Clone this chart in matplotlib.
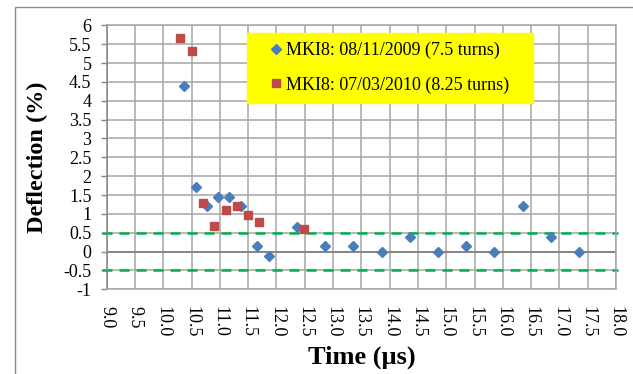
import numpy as np
import matplotlib
matplotlib.use("Agg")
import matplotlib.pyplot as plt
from matplotlib.patches import Rectangle

# data
t_2009 = [10.37, 10.57, 10.77, 10.97, 11.17, 11.37, 11.66, 11.86, 12.36,
          12.86, 13.36, 13.86, 14.36, 14.86, 15.35, 15.85, 16.35, 16.85, 17.35]
d_2009 = [4.4, 1.72, 1.2, 1.46, 1.46, 1.2, 0.15, -0.12, 0.66,
          0.14, 0.14, 0.0, 0.4, 0.0, 0.14, 0.0, 1.2, 0.4, 0.0]

t_2010 = [10.30, 10.50, 10.71, 10.90, 11.10, 11.30, 11.50, 11.70, 12.49]
d_2010 = [5.65, 5.33, 1.3, 0.68, 1.1, 1.2, 0.98, 0.79, 0.61]

label_2009 = 'MKI8: 08/11/2009 (7.5 turns)'
label_2010 = 'MKI8: 07/03/2010 (8.25 turns)'

limites = [0.5, -0.5]
x_lim_traits = [8.92, 18.035]

plt.rcParams['font.family'] = ['Liberation Serif', 'DejaVu Serif']

fig = plt.figure(figsize=(6.33, 3.74), dpi=100)
ax = fig.add_axes([106.7 / 633, 1 - 289.3 / 374, (616 - 106.7) / 633, (289.3 - 25.3) / 374])

# cadre du graphique
fig.add_artist(Rectangle((15 / 633, -0.1), 1.2, 1 - 7 / 374 + 0.1, transform=fig.transFigure,
                         fill=False, edgecolor='#8c8c8c', lw=1.0))

ax.set_xlim(9, 18)
ax.set_ylim(-1, 6)
ax.set_xticks(np.arange(9, 18.01, 0.5))
ax.set_yticks(np.arange(-1, 6.01, 0.5))
ax.set_xticklabels([f'{v:.1f}' for v in np.arange(9, 18.01, 0.5)], rotation=-90)
ax.set_yticklabels([f'{v:g}' for v in np.arange(-1, 6.01, 0.5)])
ax.tick_params(axis='x', length=0, pad=12, labelsize=13)
ax.tick_params(axis='y', length=4, width=1, color='#868686', pad=7, labelsize=13)

ax.grid(True, color='#a6a6a6', lw=1.1)
ax.set_axisbelow(True)
for s in ax.spines.values():
    s.set_color('#a6a6a6')
    s.set_linewidth(1.1)
ax.spines['left'].set_color('#868686')
ax.axhline(0, color='#868686', lw=1.4, zorder=1)

for v in limites:
    ax.plot(x_lim_traits, [v, v], color='#00b050', lw=1.8,
            linestyle=(0, (4, 2.8)), clip_on=False, zorder=2)

ax.plot(t_2009, d_2009, 'D', color='#4a7ebb', ms=4.6, label=label_2009, zorder=3)
ax.plot(t_2010, d_2010, 's', color='#be4b48', ms=6, label=label_2010, zorder=3)

leg = ax.legend(loc='upper left', bbox_to_anchor=(0.2755, 0.971, 0.5615, 0),
                mode='expand', fontsize=13, frameon=True, fancybox=False,
                facecolor='#ffff00', edgecolor='#ffff00', framealpha=1,
                labelspacing=0.94, borderpad=0.5, handlelength=2.2,
                handletextpad=-0.55, borderaxespad=0)

ax.set_xlabel('Time (µs)', fontsize=19, fontweight='bold')
ax.xaxis.set_label_coords(0.5, -0.215)
ax.set_ylabel('Deflection (%)', fontsize=17.5, fontweight='bold')
ax.yaxis.set_label_coords(-0.115, 0.5)

fig.savefig('out.png', dpi=100)
